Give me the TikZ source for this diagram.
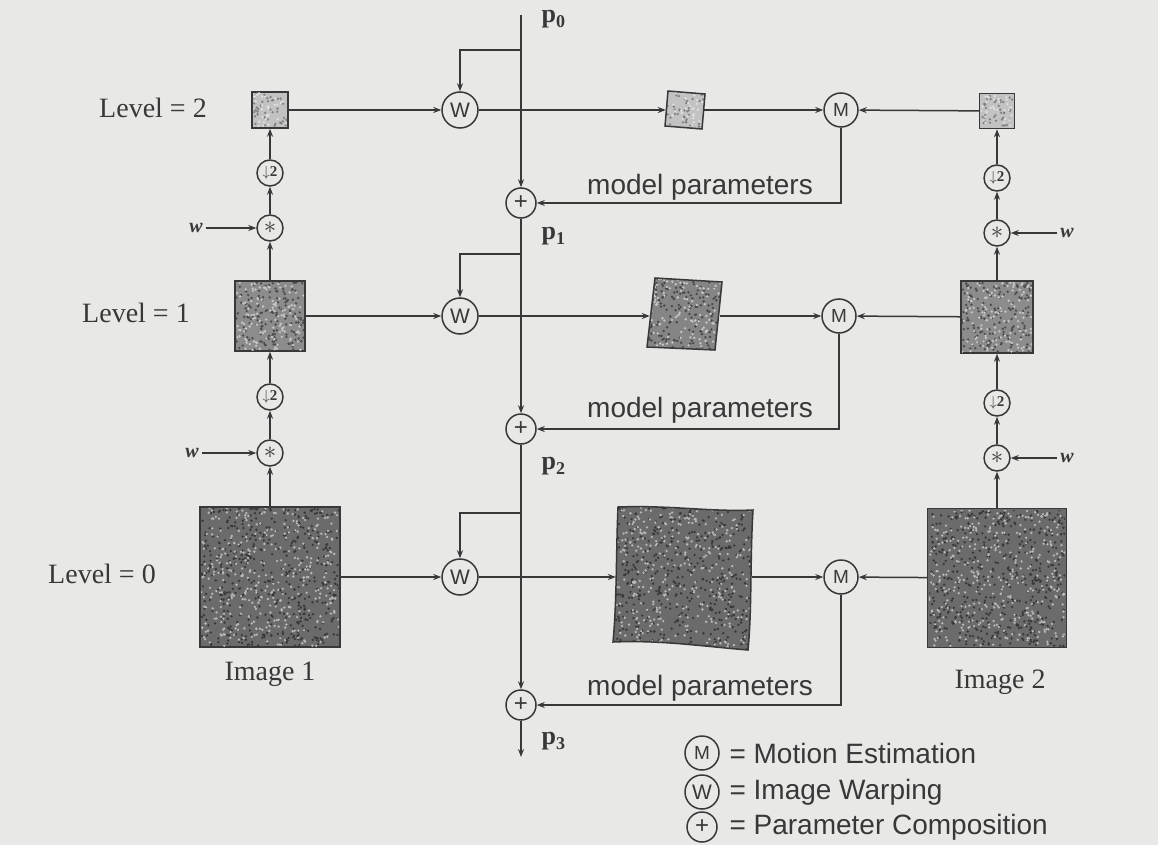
\documentclass[tikz,border=0pt]{standalone}
\usepackage{fontspec}
\setmainfont{Liberation Serif}
\setsansfont{Liberation Sans}
\usetikzlibrary{arrows.meta}
\definecolor{paper}{HTML}{E8E8E6}
\definecolor{ink}{HTML}{383838}
\newcommand\grain[6]{\foreach \k in {1,...,#5}{\fill[#6] ({#1+rnd*#3},{#2+rnd*#4}) circle (1.3);}}
\tikzset{
  conn/.style={draw=ink, line width=1.5pt},
  arr/.style={conn, -{Stealth[length=8pt,width=6pt]}},
  op/.style={circle, draw=ink, line width=1.5pt, fill=paper, inner sep=0pt, text=ink,
             font=\sffamily\fontsize{21}{21}\selectfont},
  wop/.style={op, minimum size=36pt},
  mop/.style={op, minimum size=34pt, font=\sffamily\fontsize{19}{19}\selectfont},
  pop/.style={op, minimum size=30pt, font=\sffamily\fontsize{24}{24}\selectfont},
  sop/.style={op, minimum size=26pt, font=\bfseries\fontsize{15}{15}\selectfont},
  imgbox/.style={draw=ink, line width=1.5pt, inner sep=0pt},
  ghost/.style={draw=none, inner sep=0pt},
  lvl/.style={text=ink, font=\fontsize{28}{28}\selectfont},
  plab/.style={text=ink, anchor=west, font=\bfseries\fontsize{26}{26}\selectfont},
  sans/.style={text=ink, font=\sffamily\fontsize{28}{28}\selectfont},
  wlab/.style={text=ink, font=\bfseries\itshape\fontsize{20}{20}\selectfont},
}
\begin{document}
\begin{tikzpicture}[x=1pt,y=-1pt]
\fill[paper] (0,0) rectangle (1158,845);
\useasboundingbox (0,0) rectangle (1158,845);
\pgfmathsetseed{7}

% ---------- level images (left column: Image 1 pyramid) ----------
\node[imgbox, fill=black!24, minimum size=36pt] (A2) at (270,110) {};
\node[imgbox, fill=black!45, minimum size=70pt] (A1) at (270,316) {};
\node[imgbox, fill=black!58, minimum size=140pt] (A0) at (270,577) {};
% ---------- right column: Image 2 pyramid ----------
\node[imgbox, fill=black!24, minimum size=35pt] (R2) at (997,111) {};
\node[imgbox, fill=black!45, minimum size=72pt] (R1) at (997,317) {};
\node[imgbox, fill=black!58, minimum size=139pt] (R0) at (997,578) {};

% textures of the square images
\begin{scope}\clip (253,93) rectangle (287,127);
  \grain{253}{93}{34}{34}{40}{black!50}\grain{253}{93}{34}{34}{30}{white!88!black}\end{scope}
\begin{scope}\clip (981,95) rectangle (1013,127);
  \grain{981}{95}{32}{32}{40}{black!50}\grain{981}{95}{32}{32}{30}{white!88!black}\end{scope}
\begin{scope}\clip (236,282) rectangle (304,350);
  \grain{236}{282}{68}{68}{160}{black!70}\grain{236}{282}{68}{68}{120}{white!78!black}\end{scope}
\begin{scope}\clip (962,282) rectangle (1032,352);
  \grain{962}{282}{70}{70}{160}{black!70}\grain{962}{282}{70}{70}{120}{white!78!black}\end{scope}
\begin{scope}\clip (201,508) rectangle (339,646);
  \grain{201}{508}{138}{138}{500}{black!78}\grain{201}{508}{138}{138}{380}{white!72!black}\end{scope}
\begin{scope}\clip (929,510) rectangle (1065,646);
  \grain{929}{510}{136}{136}{500}{black!78}\grain{929}{510}{136}{136}{380}{white!72!black}\end{scope}

% ---------- warped images ----------
\fill[black!24] (668,91) -- (705,94) -- (702,129) -- (665,126) -- cycle;
\begin{scope}\clip (668,91) -- (705,94) -- (702,129) -- (665,126) -- cycle;
  \grain{665}{91}{40}{38}{40}{black!50}\grain{665}{91}{40}{38}{30}{white!88!black}\end{scope}
\draw[conn] (668,91) -- (705,94) -- (702,129) -- (665,126) -- cycle;
\node[ghost, minimum width=38pt, minimum height=36pt] (B2) at (685,110) {};

\fill[black!48] (655,278) -- (722,282) -- (715,350) -- (647,347) -- cycle;
\begin{scope}\clip (655,278) -- (722,282) -- (715,350) -- (647,347) -- cycle;
  \grain{647}{278}{75}{72}{160}{black!72}\grain{647}{278}{75}{72}{120}{white!78!black}\end{scope}
\draw[conn] (655,278) -- (722,282) -- (715,350) -- (647,347) -- cycle;
\node[ghost, minimum width=70pt, minimum height=68pt] (B1) at (685,316) {};

\fill[black!58] (618,507) .. controls (670,505) and (710,512) .. (753,510)
  .. controls (750,560) and (752,610) .. (748,650)
  .. controls (700,646) and (660,640) .. (613,642)
  .. controls (617,600) and (616,550) .. cycle;
\begin{scope}\clip (618,507) .. controls (670,505) and (710,512) .. (753,510)
  .. controls (750,560) and (752,610) .. (748,650)
  .. controls (700,646) and (660,640) .. (613,642)
  .. controls (617,600) and (616,550) .. cycle;
  \grain{613}{505}{141}{146}{500}{black!78}\grain{613}{505}{141}{146}{380}{white!72!black}\end{scope}
\draw[conn] (618,507) .. controls (670,505) and (710,512) .. (753,510)
  .. controls (750,560) and (752,610) .. (748,650)
  .. controls (700,646) and (660,640) .. (613,642)
  .. controls (617,600) and (616,550) .. cycle;
\node[ghost, minimum width=136pt, minimum height=136pt] (B0) at (684,577) {};

% ---------- operators ----------
\node[wop] (W2) at (460,110) {W};
\node[wop] (W1) at (460,316) {W};
\node[wop] (W0) at (460,577) {W};
\node[mop] (M2) at (841,110) {M};
\node[mop] (M1) at (839,316) {M};
\node[mop] (M0) at (841,577) {M};
\node[pop] (P1) at (521,203) {+};
\node[pop] (P2) at (521,429) {+};
\node[pop] (P3) at (521,705) {+};

\node[sop] (D2) at (270,173) {$\downarrow$2};
\node[sop] (S2) at (270,228) {\fontsize{30}{30}\selectfont$\ast$};
\node[sop] (D1) at (270,397) {$\downarrow$2};
\node[sop] (S1) at (270,453) {\fontsize{30}{30}\selectfont$\ast$};
\node[sop] (RD2) at (997,178) {$\downarrow$2};
\node[sop] (RS2) at (997,233) {\fontsize{30}{30}\selectfont$\ast$};
\node[sop] (RD1) at (997,403) {$\downarrow$2};
\node[sop] (RS1) at (997,458) {\fontsize{30}{30}\selectfont$\ast$};

\node[wlab] (w2) at (196,228) {w};
\node[wlab] (w1) at (192,453) {w};
\node[wlab] (rw2) at (1067,233) {w};
\node[wlab] (rw1) at (1067,458) {w};

% ---------- labels ----------
\node[lvl] (L2) at (153,108) {Level = 2};
\node[lvl] (L1) at (136,313) {Level = 1};
\node[lvl] (L0) at (102,574) {Level = 0};
\node[lvl] (I1) at (270,674) {Image 1};
\node[lvl] (I2) at (1000,682) {Image 2};

\node[plab] (p0) at (538,19) {p\raisebox{-5pt}{\fontsize{18}{18}\selectfont 0}};
\node[plab] (p1) at (538,236) {p\raisebox{-5pt}{\fontsize{18}{18}\selectfont 1}};
\node[plab] (p2) at (538,466) {p\raisebox{-5pt}{\fontsize{18}{18}\selectfont 2}};
\node[plab] (p3) at (538,741) {p\raisebox{-5pt}{\fontsize{18}{18}\selectfont 3}};

\node[sans] (mp2) at (700,187) {model parameters};
\node[sans] (mp1) at (700,410) {model parameters};
\node[sans] (mp0) at (700,688) {model parameters};

% ---------- main parameter line ----------
\coordinate (top) at (521,15);
\coordinate (bot) at (521,757);
\coordinate (f2) at (521,50);
\coordinate (f1) at (521,254);
\coordinate (f0) at (521,513);
\draw[arr] (top) -- (P1);
\draw[arr] (P1) -- (P2);
\draw[arr] (P2) -- (P3);
\draw[arr] (P3) -- (bot);
\draw[arr] (f2) -| (W2);
\draw[arr] (f1) -| (W1);
\draw[arr] (f0) -| (W0);

% ---------- rows ----------
\draw[arr] (A2) -- (W2);
\draw[arr] (W2) -- (B2);
\draw[arr] (B2) -- (M2);
\draw[arr] (R2) -- (M2);
\draw[arr] (M2) |- (P1);

\draw[arr] (A1) -- (W1);
\draw[arr] (W1) -- (B1);
\draw[arr] (B1) -- (M1);
\draw[arr] (R1) -- (M1);
\draw[arr] (M1) |- (P2);

\draw[arr] (A0) -- (W0);
\draw[arr] (W0) -- (B0);
\draw[arr] (B0) -- (M0);
\draw[arr] (R0) -- (M0);
\draw[arr] (M0) |- (P3);

% ---------- pyramids ----------
\draw[arr] (A0) -- (S1);
\draw[arr] (S1) -- (D1);
\draw[arr] (D1) -- (A1);
\draw[arr] (A1) -- (S2);
\draw[arr] (S2) -- (D2);
\draw[arr] (D2) -- (A2);
\draw[arr] (w1) -- (S1);
\draw[arr] (w2) -- (S2);

\draw[arr] (R0) -- (RS1);
\draw[arr] (RS1) -- (RD1);
\draw[arr] (RD1) -- (R1);
\draw[arr] (R1) -- (RS2);
\draw[arr] (RS2) -- (RD2);
\draw[arr] (RD2) -- (R2);
\draw[arr] (rw1) -- (RS1);
\draw[arr] (rw2) -- (RS2);

% ---------- legend ----------
\node[mop] (LM) at (702,753) {M};
\node[wop, minimum size=34pt] (LW) at (702,792) {W};
\node[pop] (LP) at (702,827) {+};
\node[sans, anchor=west] (T1) at (726,753) {= Motion Estimation};
\node[sans, anchor=west] (T2) at (726,792) {= Image Warping};
\node[sans, anchor=west] (T3) at (726,827) {= Parameter Composition};
\end{tikzpicture}
\end{document}
